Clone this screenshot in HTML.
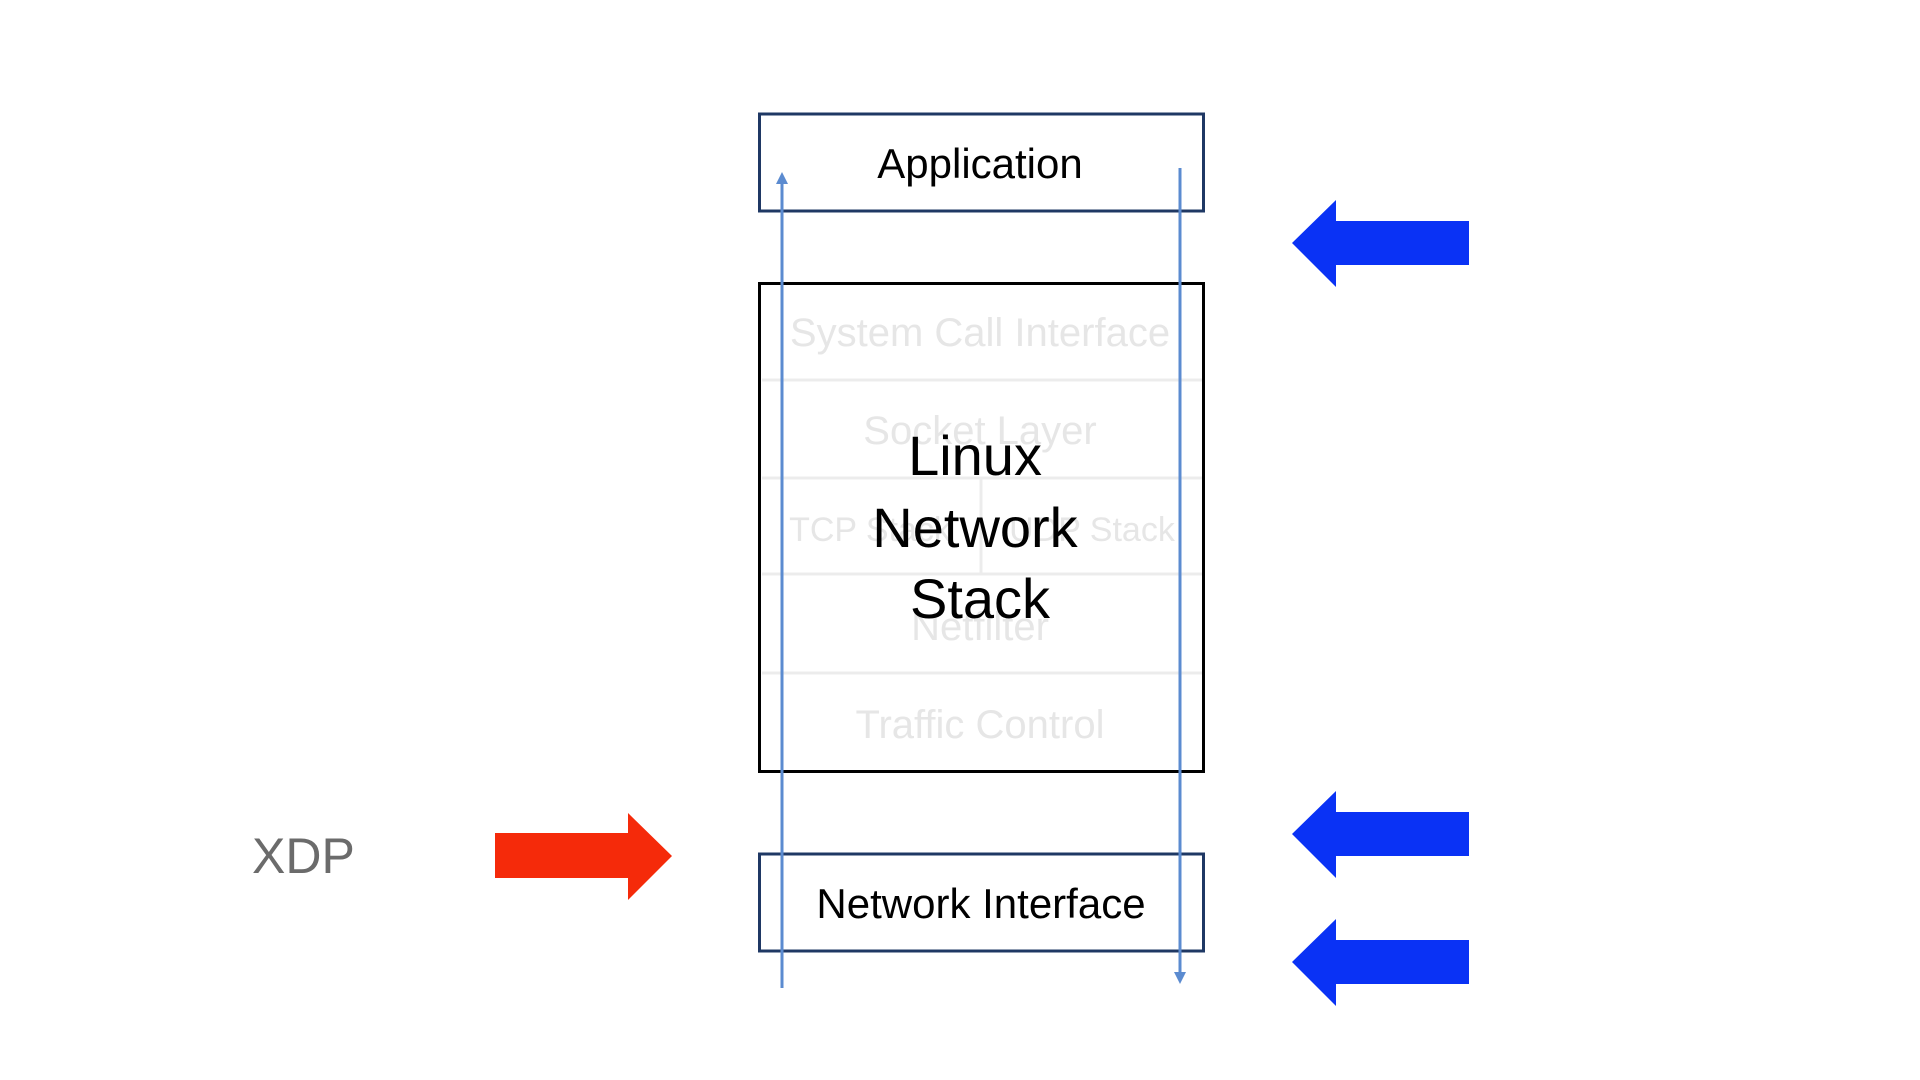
<!DOCTYPE html>
<html><head><meta charset="utf-8"><style>
html,body{margin:0;padding:0;background:#fff;}
svg{display:block;}
text{font-family:"Liberation Sans",sans-serif;}
</style></head><body>
<svg width="1920" height="1080" viewBox="0 0 1920 1080" xmlns="http://www.w3.org/2000/svg">
<rect width="1920" height="1080" fill="#fff"/>
<!-- Application -->
<rect x="759.5" y="114" width="444" height="97" fill="none" stroke="#1f3864" stroke-width="3"/>
<text x="980" y="178" font-size="42" text-anchor="middle" fill="#000">Application</text>
<!-- Stack box -->
<rect x="759.5" y="283.5" width="444" height="488" fill="none" stroke="#000" stroke-width="3"/>
<g stroke="#ececec" stroke-width="3">
<line x1="762" y1="380" x2="1202" y2="380"/>
<line x1="762" y1="478" x2="1202" y2="478"/>
<line x1="762" y1="574" x2="1202" y2="574"/>
<line x1="762" y1="673" x2="1202" y2="673"/>
<line x1="981" y1="478" x2="981" y2="574"/>
</g>
<g fill="#e6e6e6" font-size="40" text-anchor="middle">
<text x="980" y="346">System Call Interface</text>
<text x="980" y="444">Socket Layer</text>
<text x="870" y="541" font-size="34">TCP Stack</text>
<text x="1092" y="541" font-size="34">UDP Stack</text>
<text x="980" y="640">Netfilter</text>
<text x="980" y="738">Traffic Control</text>
</g>
<g fill="#000" font-size="56" text-anchor="middle">
<text x="975" y="475">Linux</text>
<text x="975" y="547">Network</text>
<text x="980" y="618">Stack</text>
</g>
<!-- Network Interface -->
<rect x="759.5" y="854" width="444" height="97" fill="none" stroke="#1f3864" stroke-width="3"/>
<text x="981" y="918" font-size="42" text-anchor="middle" fill="#000">Network Interface</text>
<!-- flow lines -->
<line x1="782" y1="180" x2="782" y2="988" stroke="#5b8bd0" stroke-width="3"/>
<polygon points="782,172 776,184 788,184" fill="#5b8bd0"/>
<line x1="1180" y1="168" x2="1180" y2="975" stroke="#5b8bd0" stroke-width="3"/>
<polygon points="1180,984 1174,972 1186,972" fill="#5b8bd0"/>
<!-- blue arrows -->
<g fill="#0a32f5">
<polygon points="1292,243 1336,200 1336,221 1469,221 1469,265 1336,265 1336,287"/>
<polygon points="1292,834 1336,791 1336,812 1469,812 1469,856 1336,856 1336,878"/>
<polygon points="1292,962 1336,919 1336,940 1469,940 1469,984 1336,984 1336,1006"/>
</g>
<!-- red arrow -->
<polygon points="672,856 628,813 628,833 495,833 495,878 628,878 628,900" fill="#f52a0a"/>
<text x="252" y="873" font-size="50" fill="#6b6b6b">XDP</text>
</svg>
</body></html>
